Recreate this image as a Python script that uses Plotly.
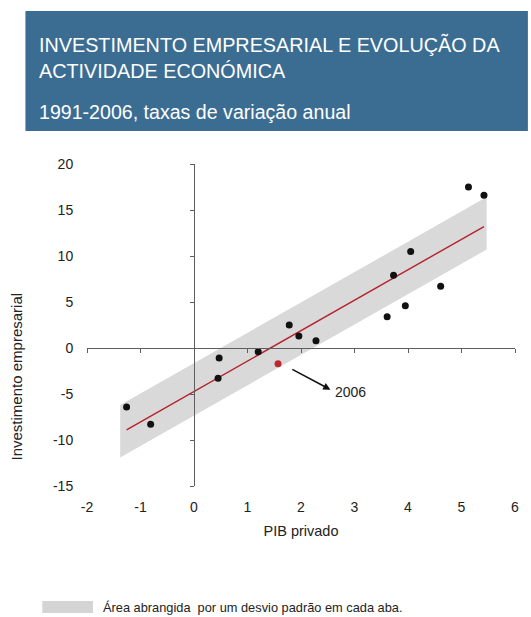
import plotly.graph_objects as go

# Annual rates of change, 1991-2006
years = list(range(1991, 2007))
pib_privado = [5.13, 5.42, 4.05, 3.73, 4.61, 3.95, 3.61, 1.78, 1.96, 2.28,
               1.20, 0.47, 0.45, -1.26, -0.81, 1.57]
investimento = [17.5, 16.6, 10.5, 7.9, 6.7, 4.6, 3.4, 2.5, 1.3, 0.8,
                -0.4, -1.1, -3.3, -6.4, -8.3, -1.7]
highlight_year = 2006

# Fitted line and one-standard-deviation band
fit_x = [-1.26, 5.42]
fit_y = [-8.9, 13.2]
band_x = [-1.38, 5.47]
band_upper = [-6.2, 16.4]
band_lower = [-11.9, 10.7]

x_ticks = [-2, -1, 0, 1, 2, 3, 4, 5, 6]
x_tick_labels = ["-2", "-1", "0", "1", "2", "3", "4", "5", "6"]
y_ticks = [-15, -10, -5, 0, 5, 10, 15, 20]
y_tick_labels = ["-15", "-10", "-5", "0", "5", "10", "15", "20"]
x_range = [-2, 6]
y_range = [-15, 20]

black_x = [x for x, yr in zip(pib_privado, years) if yr != highlight_year]
black_y = [y for y, yr in zip(investimento, years) if yr != highlight_year]
red_x = [x for x, yr in zip(pib_privado, years) if yr == highlight_year]
red_y = [y for y, yr in zip(investimento, years) if yr == highlight_year]

BAND = "#d9d9d9"
AXIS = "#5e5e5e"
FONT = "Liberation Sans, Arial, sans-serif"

fig = go.Figure()

fig.add_trace(go.Scatter(
    x=band_x + band_x[::-1], y=band_upper + band_lower[::-1],
    fill="toself", fillcolor=BAND, line=dict(width=0), mode="lines",
    hoverinfo="skip", showlegend=False))

fig.add_trace(go.Scatter(
    x=fit_x, y=fit_y, mode="lines",
    line=dict(color="#b5212b", width=1.4), showlegend=False))

fig.add_trace(go.Scatter(
    x=black_x, y=black_y, mode="markers",
    marker=dict(color="#111111", size=7), showlegend=False))

fig.add_trace(go.Scatter(
    x=red_x, y=red_y, mode="markers",
    marker=dict(color="#c0272d", size=7), showlegend=False))

# Crossing axes through the origin (no labels), drawn on overlay axes
fig.add_trace(go.Scatter(x=[None], y=[None], xaxis="x2", yaxis="y2",
                         showlegend=False, hoverinfo="skip"))

fig.update_layout(
    width=531, height=617,
    margin=dict(l=87, r=13, t=164, b=131),
    paper_bgcolor="white", plot_bgcolor="rgba(0,0,0,0)",
    font=dict(family=FONT, size=14, color="#222222"),
    xaxis=dict(range=x_range, tickvals=x_ticks, ticktext=x_tick_labels,
               showgrid=False, zeroline=False,
               showline=False, ticks="outside", ticklen=8, tickcolor="rgba(0,0,0,0)",
               tickfont=dict(size=14), domain=[0, 1],
               title=dict(text="PIB privado", font=dict(size=14.5), standoff=12)),
    yaxis=dict(range=y_range, tickvals=y_ticks, ticktext=y_tick_labels,
               showgrid=False, zeroline=False,
               showline=False, ticks="outside", ticklen=10, tickcolor="rgba(0,0,0,0)",
               tickfont=dict(size=14), domain=[0, 1]),
    xaxis2=dict(range=x_range, tickvals=x_ticks, overlaying="x", anchor="free",
                position=(0 - y_range[0]) / (y_range[1] - y_range[0]),
                showline=True, linecolor=AXIS, linewidth=1.3, ticks="outside",
                ticklen=4, tickcolor=AXIS, showticklabels=False,
                showgrid=False, zeroline=False),
    yaxis2=dict(range=y_range, tickvals=y_ticks, overlaying="y", anchor="free",
                position=(0 - x_range[0]) / (x_range[1] - x_range[0]),
                showline=True, linecolor=AXIS, linewidth=1.3, ticks="outside",
                ticklen=4, tickcolor=AXIS, showticklabels=False,
                showgrid=False, zeroline=False),
)

# Title banner
fig.add_shape(type="rect", xref="paper", yref="paper",
              x0=-(87 - 25) / 431, x1=(531 - 87) / 431,
              y0=(617 - 131 - 131) / 322, y1=(617 - 131 - 11) / 322,
              fillcolor="#3b6d93", line=dict(width=0), layer="below")

fig.add_annotation(xref="paper", yref="paper", x=-(87 - 37) / 431,
                   y=(617 - 131 - 57.5) / 322, xanchor="left", yanchor="middle",
                   align="left", showarrow=False,
                   text="INVESTIMENTO EMPRESARIAL E EVOLUÇÃO DA<br>ACTIVIDADE ECONÓMICA",
                   font=dict(family=FONT, size=19.8, color="white"))
fig.add_annotation(xref="paper", yref="paper", x=-(87 - 37) / 431,
                   y=(617 - 131 - 112) / 322, xanchor="left", yanchor="middle",
                   showarrow=False, text="1991-2006, taxas de variação anual",
                   font=dict(family=FONT, size=19.6, color="white"))

# Y axis title
fig.add_annotation(xref="paper", yref="paper", x=-(87 - 16) / 431,
                   y=(617 - 131 - 376) / 322, xanchor="center", yanchor="middle",
                   textangle=-90, showarrow=False, text="Investimento empresarial",
                   font=dict(family=FONT, size=15, color="#222222"))

# Callout for the highlighted year
fig.add_annotation(x=2.55, y=-4.53, ax=1.81, ay=-2.24, axref="x", ayref="y",
                   xref="x", yref="y", text="", showarrow=True,
                   arrowhead=2, arrowsize=0.9, arrowwidth=1.6, arrowcolor="#111111")
fig.add_annotation(x=2.6, y=-4.75, xref="x", yref="y", xanchor="left",
                   yanchor="middle", showarrow=False, text=str(highlight_year),
                   font=dict(family=FONT, size=14, color="#222222"))

# Legend swatch and text
fig.add_shape(type="rect", xref="paper", yref="paper",
              x0=-(87 - 42) / 431, x1=(93 - 87) / 431,
              y0=(617 - 131 - 613) / 322, y1=(617 - 131 - 601) / 322,
              fillcolor="#d4d4d4", line=dict(width=0))
fig.add_annotation(xref="paper", yref="paper", x=(101 - 87) / 431,
                   y=(617 - 131 - 607) / 322, xanchor="left", yanchor="middle",
                   showarrow=False,
                   text="Área abrangida  por um desvio padrão em cada aba.",
                   font=dict(family=FONT, size=12.8, color="#222222"))

fig.write_html("out.html")
